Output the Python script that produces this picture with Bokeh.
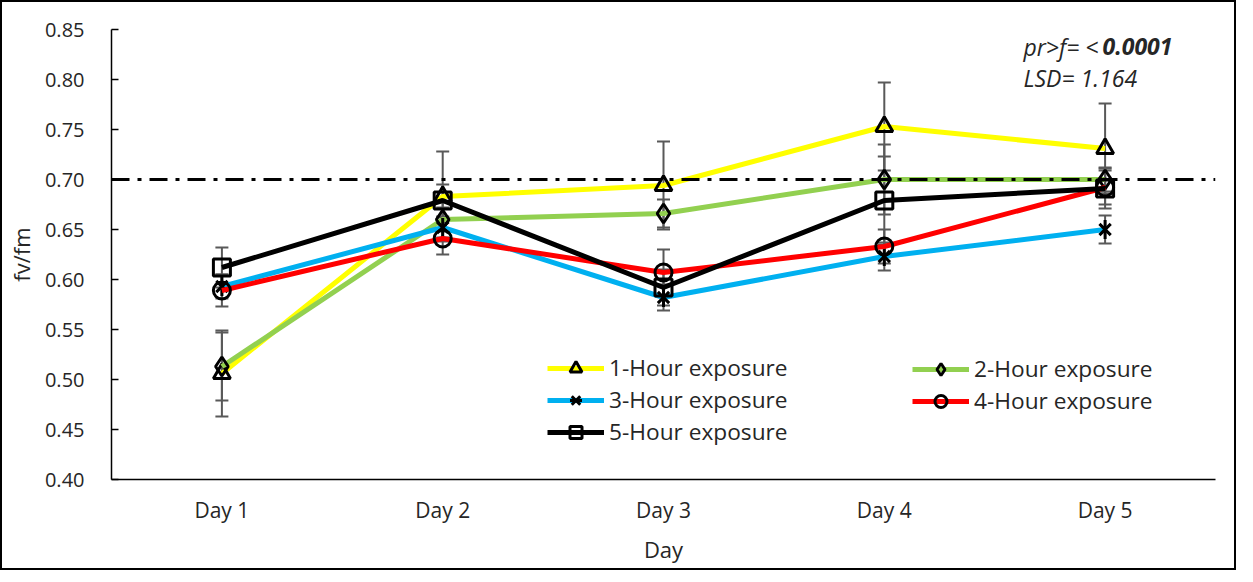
import math
from bokeh.plotting import figure
from bokeh.models import (ColumnDataSource, Whisker, TeeHead, Span, Legend, LegendItem,
                          Label, FactorRange, CustomJSTickFormatter)
from bokeh.embed import file_html
from bokeh.resources import INLINE

days = ["Day 1", "Day 2", "Day 3", "Day 4", "Day 5"]
series_names = ["1-Hour exposure", "2-Hour exposure", "3-Hour exposure",
                "4-Hour exposure", "5-Hour exposure"]
h1 = [0.506, 0.683, 0.694, 0.753, 0.731]
e1 = [0.043, 0.045, 0.044, 0.044, 0.045]
h2 = [0.513, 0.660, 0.666, 0.700, 0.700]
e2 = [0.034, 0.012, 0.014, 0.035, 0.012]
h3 = [0.593, 0.652, 0.582, 0.623, 0.650]
e3 = [0.012, 0.010, 0.013, 0.014, 0.014]
h4 = [0.589, 0.641, 0.607, 0.633, 0.692]
e4 = [0.016, 0.016, 0.023, 0.017, 0.017]
h5 = [0.612, 0.679, 0.592, 0.679, 0.691]
e5 = [0.020, 0.016, 0.018, 0.044, 0.020]
threshold = 0.70
y_ticks = [0.40, 0.45, 0.50, 0.55, 0.60, 0.65, 0.70, 0.75, 0.80, 0.85]
annot_p = "pr>f= <"
annot_p_bold = "0.0001"
annot_lsd = "LSD= 1.164"

colors = ["#FFFF00", "#92D050", "#00B0F0", "#FF0000", "#000000"]
markers = ["triangle", "diamond", "x", "circle", "square"]
msizes = [17, 19, 16, 17, 17]
values = [h1, h2, h3, h4, h5]
errors = [e1, e2, e3, e4, e5]

FONT = "Open Sans"
TXT = "#262626"

p = figure(width=1236, height=570, x_range=FactorRange(*days, range_padding=0),
           y_range=(0.40, 0.85), output_backend="svg", toolbar_location=None,
           min_border_left=109, min_border_right=23, min_border_top=27,
           min_border_bottom=93)
p.styles = {"border": "2px solid black"}
p.outline_line_color = None
p.xgrid.visible = False
p.ygrid.visible = False
p.background_fill_color = "white"

p.yaxis.ticker = y_ticks
p.yaxis.formatter = CustomJSTickFormatter(code="return tick.toFixed(2);")
p.yaxis.major_tick_in = 7
p.yaxis.major_tick_out = 0
p.yaxis.minor_tick_line_color = None
p.xaxis.major_tick_out = 0
p.xaxis.major_tick_in = 0
for ax in (p.xaxis, p.yaxis):
    ax.axis_line_color = "black"
    ax.axis_line_width = 1.5
    ax.major_tick_line_color = "black"
    ax.major_tick_line_width = 1.5
    ax.major_label_text_font = FONT
    ax.major_label_text_color = TXT
    ax.axis_label_text_font = FONT
    ax.axis_label_text_font_size = "22px"
    ax.axis_label_text_font_style = "normal"
    ax.axis_label_text_color = TXT
p.yaxis.major_label_text_font_size = "20px"
p.xaxis.major_label_text_font_size = "21px"
p.yaxis.major_label_standoff = 27
p.xaxis.major_label_standoff = 16
p.yaxis.axis_label = "fv/fm"
p.xaxis.axis_label = "Day"
p.xaxis.axis_label_standoff = 7
p.yaxis.axis_label_standoff = 6

line_items = []
for i in range(5):
    ys = values[i]
    es = errors[i]
    src = ColumnDataSource(dict(x=days, y=ys,
                                upper=[a + b for a, b in zip(ys, es)],
                                lower=[a - b for a, b in zip(ys, es)]))
    w = Whisker(base="x", upper="upper", lower="lower", source=src,
                line_color="#595959", line_width=2,
                upper_head=TeeHead(size=13, line_color="#595959", line_width=2),
                lower_head=TeeHead(size=13, line_color="#595959", line_width=2))
    p.add_layout(w)
    ln = p.line("x", "y", source=src, line_color=colors[i], line_width=5)
    mk = p.scatter("x", "y", source=src, marker=markers[i], size=msizes[i],
                   line_color="black", line_width=3, fill_alpha=0)
    rends = [ln, mk]
    if markers[i] == "x":
        mk2 = p.scatter("x", "y", source=src, marker="dash", size=msizes[i] + 3,
                        angle=math.pi / 2, line_color="black", line_width=3,
                        fill_alpha=0)
        rends.append(mk2)
    line_items.append(LegendItem(label=series_names[i], renderers=rends))

p.add_layout(Span(location=threshold, dimension="width", line_color="black",
                  line_width=3, line_dash="18 8 4 8"))

common = dict(border_line_color=None, background_fill_alpha=0, padding=0, margin=0,
              glyph_width=57, glyph_height=30, label_standoff=5, spacing=1,
              label_text_font=FONT, label_text_font_size="22.7px",
              label_text_color=TXT)
leg1 = Legend(items=[line_items[0], line_items[2], line_items[4]],
              location=(436, 32), **common)
leg2 = Legend(items=[line_items[1], line_items[3]], location=(801, 63), **common)
p.add_layout(leg1)
p.add_layout(leg2)

lab_font = dict(text_font=FONT, text_font_size="23px", text_color=TXT,
                text_baseline="alphabetic", x_units="screen", y_units="screen")
p.add_layout(Label(x=912, y=433, text=annot_p, text_font_style="italic", **lab_font))
p.add_layout(Label(x=991, y=433, text=annot_p_bold, text_font_style="bold italic", **lab_font))
p.add_layout(Label(x=912, y=402, text=annot_lsd, text_font_style="italic", **lab_font))

open("out.html", "w").write(file_html(p, INLINE))
